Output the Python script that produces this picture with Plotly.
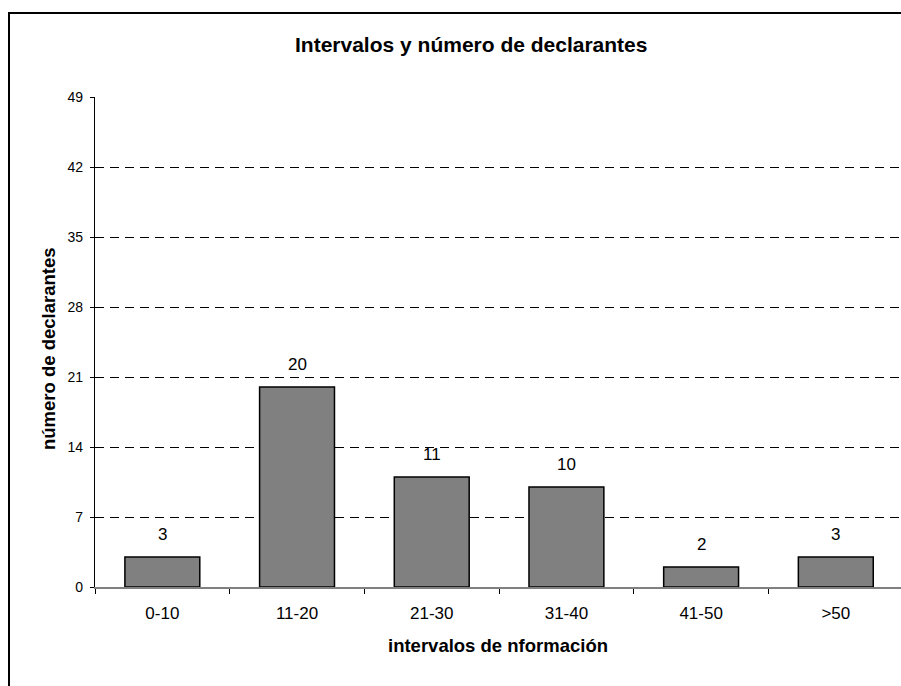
import plotly.graph_objects as go

categories = ["0-10", "11-20", "21-30", "31-40", "41-50", ">50"]
values = [3, 20, 11, 10, 2, 3]
y_ticks = [0, 7, 14, 21, 28, 35, 42, 49]

title_text = "Intervalos y número de declarantes"
x_title = "intervalos de nformación"
y_title = "número de declarantes"

FONT = "Arial, 'Liberation Sans', sans-serif"

W, H = 901, 686
L, R, T, B = 95, 0, 97, 99
pw = W - L - R
ph = H - T - B

fig = go.Figure()
fig.add_trace(go.Bar(
    x=categories, y=values,
    marker=dict(color="#808080", line=dict(color="#000000", width=1.5)),
    width=0.556,
    hoverinfo="x+y",
))

# data labels
for c, v in zip(categories, values):
    fig.add_annotation(x=c, y=v, text=str(v), showarrow=False,
                       yanchor="bottom", yshift=11,
                       font=dict(family=FONT, size=17, color="#000000"))

def px_x(p):
    return (p - L) / pw

def px_y(p):
    return (H - B - p) / ph

# axis titles and chart title
fig.add_annotation(xref="paper", yref="paper", x=px_x(471), y=px_y(44),
                   text="<b>" + title_text + "</b>", showarrow=False,
                   xanchor="center", yanchor="middle",
                   font=dict(family=FONT, size=21, color="#000000"))
fig.add_annotation(xref="paper", yref="paper", x=px_x(498), y=px_y(645),
                   text="<b>" + x_title + "</b>", showarrow=False,
                   xanchor="center", yanchor="middle",
                   font=dict(family=FONT, size=18.5, color="#000000"))
fig.add_annotation(xref="paper", yref="paper", x=px_x(48), y=px_y(349),
                   text="<b>" + y_title + "</b>", showarrow=False, textangle=-90,
                   xanchor="center", yanchor="middle",
                   font=dict(family=FONT, size=18.5, color="#000000"))

# outer chart frame
fig.add_shape(type="rect", xref="paper", yref="paper",
              x0=px_x(9), x1=px_x(960), y0=px_y(760), y1=px_y(13),
              line=dict(color="#000000", width=2), fillcolor="rgba(0,0,0,0)", layer="below")

fig.update_layout(
    width=W, height=H,
    margin=dict(l=L, r=R, t=T, b=B, pad=0),
    paper_bgcolor="#ffffff", plot_bgcolor="#ffffff",
    showlegend=False,
    bargap=0.444,
    xaxis=dict(
        type="category", range=[-0.5, 5.484],
        tickson="boundaries", ticks="outside", ticklen=5, tickcolor="#000000", tickwidth=1,
        showline=True, linecolor="#808080", linewidth=1.5,
        showgrid=False, zeroline=False,
        tickfont=dict(family=FONT, size=17, color="#000000"),
        ticklabelstandoff=10,
    ),
    yaxis=dict(
        range=[0, 49], tickvals=y_ticks, ticktext=[str(v) for v in y_ticks],
        ticks="outside", ticklen=4, tickcolor="#000000", tickwidth=1,
        showline=True, linecolor="#000000", linewidth=1.3,
        showgrid=False, zeroline=False,
        tickfont=dict(family=FONT, size=14, color="#000000"),
        ticklabelstandoff=4,
    ),
    yaxis2=dict(
        range=[0, 49], tickvals=y_ticks[1:-1], overlaying="y", side="left",
        showticklabels=False, ticks="", showline=False, zeroline=False,
        showgrid=True, gridcolor="#000000", gridwidth=1, griddash="9px,6px",
        layer="below traces",
    ),
)
# invisible trace to activate yaxis2 grid
fig.add_trace(go.Scatter(x=categories, y=values, yaxis="y2", mode="markers",
                         marker=dict(opacity=0), hoverinfo="skip", showlegend=False))

fig.write_html("out.html", config={"displayModeBar": False},
               post_script="document.body.style.margin='0';document.body.style.overflow='hidden';")
